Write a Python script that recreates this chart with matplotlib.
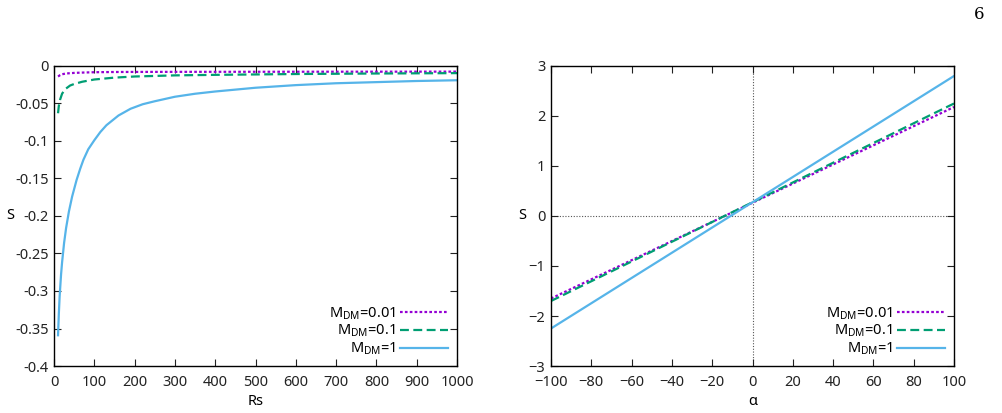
import numpy as np
import matplotlib
matplotlib.use("Agg")
import matplotlib.pyplot as plt

plt.rcParams['font.family'] = ['Noto Sans', 'DejaVu Sans']
plt.rcParams['mathtext.default'] = 'regular'

# left panel: S vs Rs
rs_m1 = [10, 12, 14, 17.5, 20, 25, 30, 37, 45, 56, 65, 73, 85, 100, 115, 130, 160, 190,
         220, 250, 300, 350, 400, 500, 600, 700, 800, 900, 1000]
s_m1 = [-0.359, -0.330, -0.307, -0.278, -0.262, -0.236, -0.216, -0.194, -0.174, -0.152,
        -0.137, -0.125, -0.111, -0.099, -0.088, -0.079, -0.066, -0.057,
        -0.051, -0.047, -0.041, -0.037, -0.034, -0.029, -0.0255, -0.023, -0.0215, -0.020, -0.019]

rs_m01 = [10, 12, 15, 20, 25, 30, 40, 50, 70, 100, 150, 200, 300, 400, 600, 800, 1000]
s_m01 = [-0.063, -0.053, -0.045, -0.037, -0.033, -0.030, -0.026, -0.024, -0.021, -0.018,
         -0.0155, -0.014, -0.0125, -0.0118, -0.0107, -0.0100, -0.0095]

rs_m001 = [10, 15, 20, 30, 50, 75, 100, 150, 200, 300, 500, 700, 1000]
s_m001 = [-0.014, -0.0122, -0.011, -0.0100, -0.0092, -0.0087, -0.0083, -0.0080, -0.0079,
          -0.0078, -0.0077, -0.0076, -0.0075]

# right panel: S vs alpha (straight lines)
alpha = [-100, 0, 100]
a_m001 = [-1.65, 0.265, 2.18]
a_m01 = [-1.70, 0.275, 2.25]
a_m1 = [-2.25, 0.275, 2.80]

labels = ['M$_{DM}$=0.01', 'M$_{DM}$=0.1', 'M$_{DM}$=1']
colors = ['#9400d3', '#009e73', '#56b4e9']
styles = [(0, (1.2, 1.0)), (0, (4, 2)), '-']

fig = plt.figure(figsize=(10.02, 4.13), dpi=100)
ax1 = fig.add_axes([0.0539, 0.1138, 0.4022, 0.7264])
ax2 = fig.add_axes([0.5499, 0.1138, 0.4022, 0.7264])

left = [(rs_m001, s_m001), (rs_m01, s_m01), (rs_m1, s_m1)]
for (xs, ys), lab, c, ls in zip(left, labels, colors, styles):
    ax1.plot(xs, ys, color=c, ls=ls, lw=1.6, label=lab)
for ys, lab, c, ls in zip([a_m001, a_m01, a_m1], labels, colors, styles):
    ax2.plot(alpha, ys, color=c, ls=ls, lw=1.6, label=lab)

ax2.axhline(0, color='#555555', lw=0.8, ls=(0, (1, 1.5)), zorder=0)
ax2.axvline(0, color='#555555', lw=0.8, ls=(0, (1, 1.5)), zorder=0)

ax1.set_xlim(0, 1000)
ax1.set_ylim(-0.4, 0)
ax1.set_xticks(np.arange(0, 1001, 100))
ax1.set_yticks([-0.4, -0.35, -0.3, -0.25, -0.2, -0.15, -0.1, -0.05, 0])
ax1.set_yticklabels(['-0.4', '-0.35', '-0.3', '-0.25', '-0.2', '-0.15', '-0.1', '-0.05', '0'])
ax1.set_xlabel('Rs', fontsize=10.5, labelpad=3)

ax2.set_xlim(-100, 100)
ax2.set_ylim(-3, 3)
ax2.set_xticks(np.arange(-100, 101, 20))
ax2.set_yticks(np.arange(-3, 4, 1))
ax2.set_xlabel('α', fontsize=10.5, labelpad=3)

for ax in (ax1, ax2):
    ax.tick_params(direction='in', top=True, right=True, length=5, width=0.8,
                   labelsize=10.5, colors='#222222', pad=4)
    ax.tick_params(axis='x', pad=6.5)
    for sp in ax.spines.values():
        sp.set_linewidth(1.0)
    ax.set_ylabel('S', fontsize=10.5, rotation=0, va='center', ha='center')
    ax.legend(loc='lower right', frameon=False, markerfirst=False, fontsize=10.5,
              handlelength=3.3, handletextpad=0.3, labelspacing=0.1,
              borderaxespad=0.3, borderpad=0.3)

ax1.yaxis.set_label_coords(-0.109, 0.5)
ax2.yaxis.set_label_coords(-0.072, 0.5)

fig.text(0.977, 0.965, '6', fontsize=12, family='DejaVu Serif', ha='center', va='center')

fig.savefig('out.png', dpi=100)
